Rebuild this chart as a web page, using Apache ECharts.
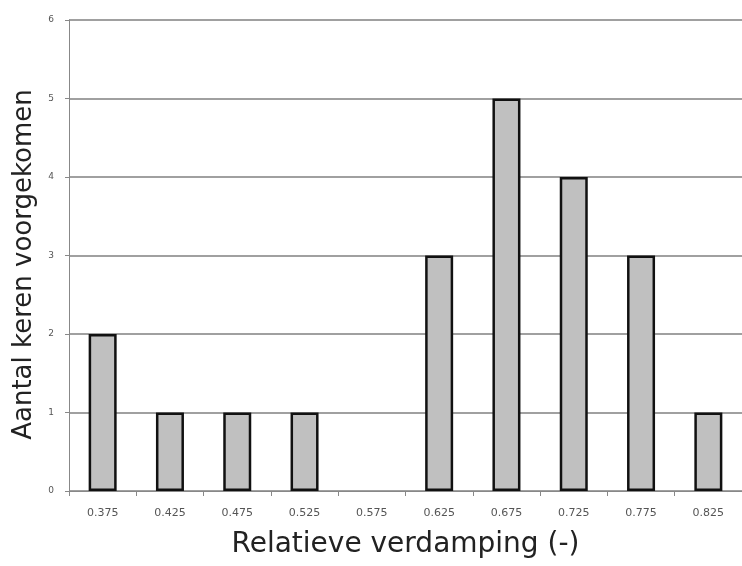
<!DOCTYPE html>
<html><head><meta charset="utf-8">
<script src="https://cdn.jsdelivr.net/npm/echarts@6/dist/echarts.min.js"></script>
<style>html,body{margin:0;padding:0;background:#fff}#c{width:742px;height:566px}</style>
</head><body><div id="c"></div>
<script>
const categories = ['0.375','0.425','0.475','0.525','0.575','0.625','0.675','0.725','0.775','0.825'];
const counts = [2,1,1,1,0,3,5,4,3,1];
const yTicks = [0,1,2,3,4,5,6];
const xTitle = 'Relatieve verdamping (-)';
const yTitle = 'Aantal keren voorgekomen';

const barData = counts.map(function(v){
  return v === 0 ? {value:v, itemStyle:{borderWidth:0, opacity:0}} : v;
});

const chart = echarts.init(document.getElementById('c'));
chart.setOption({
  animation:false,
  backgroundColor:'#fff',
  grid:{left:69, top:20, width:680, height:471, containLabel:false},
  xAxis:{
    type:'category', data:categories,
    name:xTitle, nameLocation:'middle', nameGap:40,
    nameTextStyle:{fontFamily:'DejaVu Sans', fontSize:28, color:'#222'},
    axisLine:{lineStyle:{color:'#888', width:1}},
    axisTick:{show:true, alignWithLabel:false, length:5, lineStyle:{color:'#888'}},
    axisLabel:{fontFamily:'DejaVu Sans', fontSize:11, color:'#555', margin:17},
    splitLine:{show:false}
  },
  yAxis:{
    type:'value', min:0, max:6, interval:1,
    name:yTitle, nameLocation:'middle', nameGap:30, nameRotate:90,
    nameTextStyle:{fontFamily:'DejaVu Sans', fontSize:26, color:'#222', padding:[0,18,0,0]},
    axisLine:{show:true, lineStyle:{color:'#888', width:1}},
    axisTick:{show:true, length:4, lineStyle:{color:'#888'}},
    axisLabel:{fontFamily:'DejaVu Sans', fontSize:9, color:'#555', margin:15,
      formatter:function(v){return yTicks.indexOf(v)>=0?String(v):'';}},
    splitLine:{show:true, lineStyle:{color:'#808080', width:1.5}}
  },
  series:[{
    type:'bar', data:barData, barWidth:28,
    itemStyle:{color:'#c0c0c0', borderColor:'#111', borderWidth:2.5}
  }]
});
</script></body></html>
